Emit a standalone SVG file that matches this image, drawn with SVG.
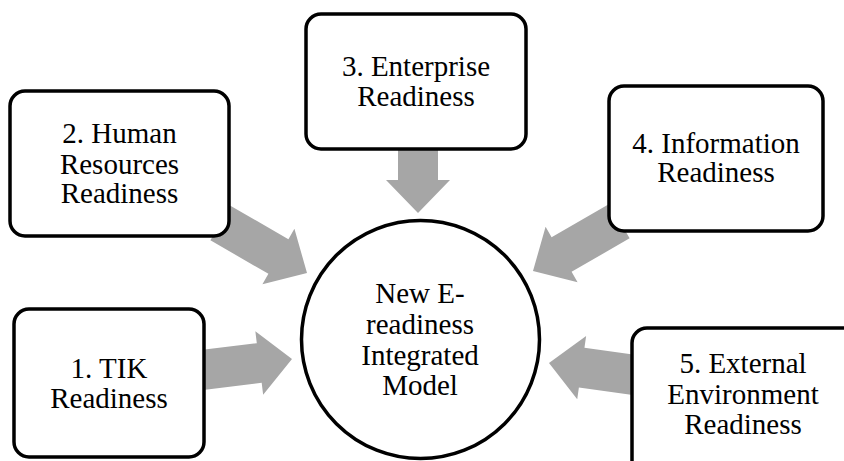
<svg xmlns="http://www.w3.org/2000/svg" width="844" height="461" viewBox="0 0 844 461">
  <defs>
    <!-- block arrow pointing along +x, tip at origin -->
    <polygon id="blockArrow" points="0,0 -33,-32 -33,-20 -100,-20 -100,20 -33,20 -33,32"/>
  </defs>
  <style>
    .arrow { fill: #a6a6a6; }
    .box { fill: #ffffff; stroke: #000000; stroke-width: 3.5; }
    .label { font-family: 'Liberation Serif', 'Times New Roman', serif; font-size: 29px; fill: #000000; text-anchor: middle; }
  </style>
  <rect width="844" height="461" fill="#ffffff"/>

  <!-- connectors: block arrows into the centre circle -->
  <g id="connectors">
    <use href="#blockArrow" class="arrow" transform="translate(292,359) rotate(-7)"/>
    <use href="#blockArrow" class="arrow" transform="translate(307,273) rotate(30)"/>
    <use href="#blockArrow" class="arrow" transform="translate(418,213) rotate(90)"/>
    <use href="#blockArrow" class="arrow" transform="translate(533,271) rotate(150)"/>
    <use href="#blockArrow" class="arrow" transform="translate(549,363) rotate(188)"/>
  </g>

  <g id="center">
    <circle class="box" cx="420.5" cy="339.5" r="119"/>
    <text class="label" x="420" y="303">New E-</text>
    <text class="label" x="420" y="334">readiness</text>
    <text class="label" x="420" y="365">Integrated</text>
    <text class="label" x="420" y="395">Model</text>
  </g>

  <g id="tik">
    <rect class="box" x="14" y="309" width="190" height="148" rx="15"/>
    <text class="label" x="109" y="378">1. TIK</text>
    <text class="label" x="109" y="408">Readiness</text>
  </g>

  <g id="human">
    <rect class="box" x="10" y="91" width="219" height="145" rx="15"/>
    <text class="label" x="119.5" y="143">2. Human</text>
    <text class="label" x="119.5" y="174">Resources</text>
    <text class="label" x="119.5" y="203">Readiness</text>
  </g>

  <g id="enterprise">
    <rect class="box" x="306" y="14" width="220" height="135" rx="15"/>
    <text class="label" x="416" y="76">3. Enterprise</text>
    <text class="label" x="416" y="106">Readiness</text>
  </g>

  <g id="information">
    <rect class="box" x="609" y="86" width="214" height="145" rx="15"/>
    <text class="label" x="716" y="153">4. Information</text>
    <text class="label" x="716" y="182">Readiness</text>
  </g>

  <g id="external">
    <rect class="box" x="632" y="328" width="230" height="150" rx="15"/>
    <text class="label" x="743" y="373">5. External</text>
    <text class="label" x="743" y="404">Environment</text>
    <text class="label" x="743" y="434">Readiness</text>
  </g>
</svg>
